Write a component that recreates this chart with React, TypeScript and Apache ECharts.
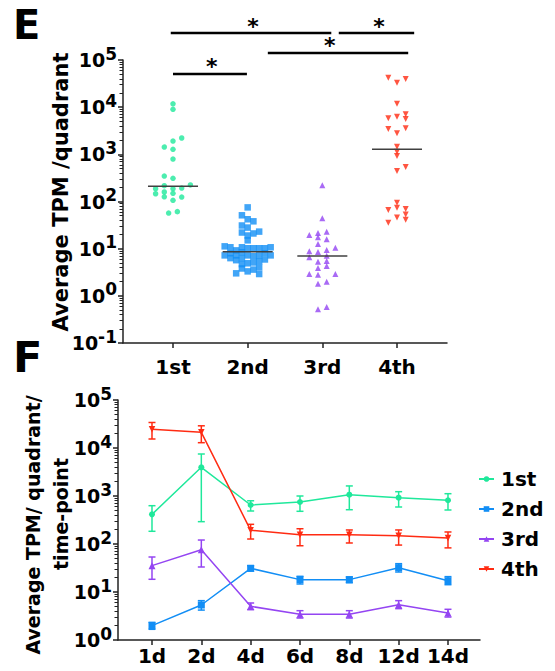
import React, { useEffect, useRef } from 'react';
import * as echarts from 'echarts';

// ---------- Panel E data ----------
const eCategories = ['1st', '2nd', '3rd', '4th'];
const eFirstValues = [11800, 9000, 2220, 1915, 1430, 1277, 796, 347, 310, 216, 224, 187, 187, 193, 159, 149, 146, 126, 124, 106, 57, 61];
const eFirstCols = [0, 0, 1, 0, -1, 0, 0, -1, 0, -1, 2, -2, 0, 1, -1, 0, -2, -1, 1, 0, -0.5, 0.5];
const eSecondValues = [75, 51, 42, 38, 31, 28, 22, 21, 23, 19, 15, 11.2, 10.7, 9.2, 10.7, 10.2, 10.2, 10.2, 10.2, 10.7, 7.2, 8.0, 6.3, 7.2, 5.7, 8.4, 6.3, 7.2, 6.9, 7.2, 8.0, 7.2, 5.9, 4.7, 4.9, 5.1, 5.4, 3.8, 3.3, 3.6, 4.0, 3.0, 2.9];
const eSecondCols = [0, -1, 0, 1, -1, 0, -1, 1, 2, 0, 0, -4, -3, -2, -1, 0, 1, 2, 3, 4, -4, -3, -3, -2, -2, -1, -1, 0, 1, 2, 3, 4, 3, -1, 0, 1, 2, -1, 0, 1, 2, -2, 2];
const eThirdValues = [220, 44, 19.5, 21.5, 22.9, 17.4, 15.8, 12.6, 10.5, 8.8, 8.5, 9.4, 7.1, 6.6, 5.3, 5.5, 4.3, 3.9, 2.9, 2.8, 2.9, 1.8, 2.0, 0.52, 0.58];
const eThirdCols = [0, 0, -1.5, -0.5, 0.5, -0.5, 0.5, -0.5, 1.5, -1.5, -0.5, 0.5, 0.5, -1.5, -0.5, 0.5, 0.5, -0.5, -1.5, -0.5, 1.5, -0.5, 0.5, -0.5, 0.5];
const eFourthValues = [42000, 33000, 39500, 11800, 5800, 6300, 7050, 5600, 3440, 2790, 3560, 1450, 1135, 920, 538, 443, 94, 66, 74, 69, 53, 46, 41, 35.5];
const eFourthCols = [-1, 0, 1, 0, -1, 0, 1, 1, -1, 0, 1, 0, 0, 0, 1, 0, 0, -1, 0, 1, 1, 0, 1, -1];
const eMedians = [210, 8.6, 7, 1280];

// significance brackets (category units / values)
const bracketFrom = [-0.03, 2.22, 1.27, 0];
const bracketTo = [2.12, 3.23, 3.15, 0.99];
const bracketLevel = [3.73e5, 3.73e5, 1.41e5, 5.05e4];
const bracketStarAt = [1.07, 2.76, 2.1, 0.52];
const bracketLabels = ['*', '*', '*', '*'];

// ---------- Panel F data ----------
const days = ['1d', '2d', '4d', '6d', '8d', '12d', '14d'];
const fNames = ['1st', '2nd', '3rd', '4th'];
const f1stMean = [415, 3960, 650, 750, 1066, 922, 815];
const f1stHigh = [628, 7500, 795, 1000, 1620, 1230, 1117];
const f1stLow = [184, 292, 487, 480, 518, 590, 511];
const f2ndMean = [1.99, 5.36, 31.1, 18.1, 18.1, 32.1, 17.2];
const f2ndHigh = [2.33, 6.6, 35.4, 21.2, 20.5, 38.9, 20.9];
const f2ndLow = [1.67, 4.2, 27.4, 14.7, 15.6, 26.1, 14.2];
const f3rdMean = [35.4, 76, 5.03, 3.43, 3.43, 5.44, 3.65];
const f3rdHigh = [53.6, 121, 5.9, 4.08, 4.08, 6.6, 4.36];
const f3rdLow = [18.4, 33.2, 4.28, 2.87, 2.87, 4.5, 3.01];
const f4thMean = [24500, 21200, 193, 156, 156, 149, 133];
const f4thHigh = [34000, 29000, 257, 208, 196, 196, 178];
const f4thLow = [15400, 12900, 127, 92, 105, 95, 83];

// ---------- styling ----------
const COLORS = ['#1fe89b', '#128ef5', '#9445f2', '#ff2b12'];
const FONT = '"DejaVu Sans", "Liberation Sans", Arial, sans-serif';
const AXIS_COLOR = '#222';
const COL_STEP = [0.1165, 0.077, 0.1165, 0.1165];

function minorLogTicks(lo: number, hi: number): number[] {
  const out: number[] = [];
  for (let n = lo; n < hi; n++) {
    for (let k = 2; k <= 9; k++) out.push(n + Math.log10(k));
  }
  return out;
}

const logLabel = (v: number) => {
  const e = Math.round(Math.log10(v));
  return `{b|10}{s|${e}}`;
};
const logRich = {
  b: { fontFamily: FONT, fontWeight: 'bold', fontSize: 19, color: '#000', lineHeight: 30 },
  s: { fontFamily: FONT, fontWeight: 'bold', fontSize: 17, color: '#000', lineHeight: 15, verticalAlign: 'top' },
};

export default function App() {
  const ref = useRef<HTMLDivElement>(null);

  useEffect(() => {
    if (!ref.current) return;
    const chart = echarts.init(ref.current, undefined, { renderer: 'svg' });

    const eSets = [
      { v: eFirstValues, c: eFirstCols, symbol: 'circle', size: 5.5, rot: 0 },
      { v: eSecondValues, c: eSecondCols, symbol: 'rect', size: 6.5, rot: 0 },
      { v: eThirdValues, c: eThirdCols, symbol: 'triangle', size: 6, rot: 0 },
      { v: eFourthValues, c: eFourthCols, symbol: 'triangle', size: 6, rot: 180 },
    ];

    const eScatter = eSets.map((s, i) => ({
      type: 'scatter',
      name: 'E ' + eCategories[i],
      xAxisIndex: 0,
      yAxisIndex: 0,
      symbol: s.symbol,
      symbolSize: s.size,
      symbolRotate: s.rot,
      itemStyle: { color: COLORS[i] },
      data: s.v.map((val, j) => [i + s.c[j] * COL_STEP[i], val]),
      z: 3,
    }));

    const medianSeries = {
      type: 'custom',
      name: 'medians',
      xAxisIndex: 0,
      yAxisIndex: 0,
      data: eMedians.map((m, i) => [i, m]),
      renderItem: (_p: any, api: any) => {
        const a = api.coord([api.value(0) - 0.335, api.value(1)]);
        const b = api.coord([api.value(0) + 0.335, api.value(1)]);
        return {
          type: 'line',
          shape: { x1: a[0], y1: a[1], x2: b[0], y2: b[1] },
          style: { stroke: '#404040', lineWidth: 1.6 },
        };
      },
      z: 5,
    };

    const bracketSeries = {
      type: 'custom',
      name: 'brackets',
      xAxisIndex: 0,
      yAxisIndex: 0,
      clip: false,
      encode: { x: [0, 1, 3], y: 2 },
      data: bracketFrom.map((f, i) => [f, bracketTo[i], bracketLevel[i], bracketStarAt[i]]),
      renderItem: (p: any, api: any) => {
        const a = api.coord([api.value(0), api.value(2)]);
        const b = api.coord([api.value(1), api.value(2)]);
        const s = api.coord([api.value(3), api.value(2)]);
        return {
          type: 'group',
          children: [
            {
              type: 'line',
              shape: { x1: a[0], y1: a[1], x2: b[0], y2: b[1] },
              style: { stroke: '#000', lineWidth: 2.5 },
            },
            {
              type: 'text',
              x: s[0],
              y: s[1] - 7,
              style: {
                text: bracketLabels[p.dataIndex],
                font: `bold 22px ${FONT}`,
                fill: '#000',
                align: 'center',
                verticalAlign: 'middle',
                textAlign: 'center',
                textVerticalAlign: 'middle',
              },
            },
          ],
        };
      },
      z: 6,
    };

    const fMeans = [f1stMean, f2ndMean, f3rdMean, f4thMean];
    const fHighs = [f1stHigh, f2ndHigh, f3rdHigh, f4thHigh];
    const fLows = [f1stLow, f2ndLow, f3rdLow, f4thLow];
    const fSymbols = [
      { symbol: 'circle', size: 6, rot: 0 },
      { symbol: 'rect', size: 7, rot: 0 },
      { symbol: 'triangle', size: 7, rot: 0 },
      { symbol: 'triangle', size: 6.5, rot: 180 },
    ];

    const fErr = fNames.map((n, i) => ({
      type: 'custom',
      name: n + ' error',
      xAxisIndex: 1,
      yAxisIndex: 2,
      encode: { x: 0, y: [1, 2] },
      data: days.map((_d, j) => [j, fLows[i][j], fHighs[i][j]]),
      renderItem: (_p: any, api: any) => {
        const top = api.coord([api.value(0), api.value(2)]);
        const bot = api.coord([api.value(0), api.value(1)]);
        const w = 3.5;
        const st = { stroke: COLORS[i], lineWidth: 1.5 };
        return {
          type: 'group',
          children: [
            { type: 'line', shape: { x1: top[0], y1: top[1], x2: bot[0], y2: bot[1] }, style: st },
            { type: 'line', shape: { x1: top[0] - w, y1: top[1], x2: top[0] + w, y2: top[1] }, style: st },
            { type: 'line', shape: { x1: bot[0] - w, y1: bot[1], x2: bot[0] + w, y2: bot[1] }, style: st },
          ],
        };
      },
      z: 2,
    }));

    const fLines = fNames.map((n, i) => ({
      type: 'line',
      name: n,
      xAxisIndex: 1,
      yAxisIndex: 2,
      symbol: fSymbols[i].symbol,
      symbolSize: fSymbols[i].size,
      symbolRotate: fSymbols[i].rot,
      showAllSymbol: true,
      lineStyle: { color: COLORS[i], width: 1.5 },
      itemStyle: { color: COLORS[i] },
      data: fMeans[i].map((v, j) => [j, v]),
      z: 3,
    }));

    const catAxis = (grid: number, min: number, max: number, labels: string[], margin: number) => ({
      gridIndex: grid,
      type: 'value',
      position: 'bottom',
      min,
      max,
      axisLine: { show: true, onZero: false, lineStyle: { color: AXIS_COLOR, width: 1.5 } },
      axisTick: {
        show: true,
        customValues: labels.map((_l, i) => i),
        length: 5,
        lineStyle: { color: AXIS_COLOR, width: 1.5 },
      },
      axisLabel: {
        show: true,
        customValues: labels.map((_l, i) => i),
        formatter: (v: number) => labels[Math.round(v)] ?? '',
        margin,
        fontFamily: FONT,
        fontWeight: 'bold',
        fontSize: 20,
        color: '#000',
      },
      splitLine: { show: false },
    });

    const logAxis = (grid: number, min: number, max: number) => ({
      gridIndex: grid,
      type: 'log',
      position: 'left',
      logBase: 10,
      min,
      max,
      axisLine: { show: true, onZero: false, lineStyle: { color: AXIS_COLOR, width: 1.5 } },
      axisTick: { show: true, length: 5, lineStyle: { color: AXIS_COLOR, width: 1.5 } },
      axisLabel: { show: true, formatter: logLabel, rich: logRich, margin: 6 },
      splitLine: { show: false },
    });

    const minorAxis = (grid: number, lo: number, hi: number) => ({
      gridIndex: grid,
      type: 'value',
      position: 'left',
      offset: 0,
      min: lo,
      max: hi,
      axisLine: { show: false, onZero: false },
      axisTick: { show: true, customValues: minorLogTicks(lo, hi), length: 3.5, lineStyle: { color: AXIS_COLOR, width: 1 } },
      axisLabel: { show: false },
      splitLine: { show: false },
    });

    const titleStyle = (text: string, size: number) => ({
      text,
      font: `bold ${size}px ${FONT}`,
      fill: '#000',
      align: 'center',
      verticalAlign: 'middle',
      textAlign: 'center',
      textVerticalAlign: 'middle',
    });

    chart.setOption({
      animation: false,
      backgroundColor: '#fff',
      grid: [
        { left: 123, top: 60, width: 324, height: 283 },
        { left: 118, top: 400, width: 362, height: 240 },
      ],
      xAxis: [
        catAxis(0, -0.6696, 3.6696, eCategories, 14),
        catAxis(1, -0.689, 6.649, days, 6),
      ],
      yAxis: [logAxis(0, 0.1, 1e5), minorAxis(0, -1, 5), logAxis(1, 1, 1e5), minorAxis(1, 0, 5)],
      legend: {
        data: fNames,
        orient: 'vertical',
        left: 473,
        top: 464,
        itemWidth: 15,
        itemHeight: 7,
        itemGap: 10,
        selectedMode: false,
        textStyle: { fontFamily: FONT, fontWeight: 'bold', fontSize: 20, color: '#000', padding: [0, 0, 0, 2] },
      },
      graphic: [
        { type: 'text', x: 13, y: 25, style: { ...titleStyle('E', 40), align: 'left', textAlign: 'left' } },
        { type: 'text', x: 13, y: 357, style: { ...titleStyle('F', 43), align: 'left', textAlign: 'left' } },
        { type: 'text', x: 61, y: 192, rotation: Math.PI / 2, style: titleStyle('Average TPM /quadrant', 21) },
        { type: 'text', x: 33, y: 525, rotation: Math.PI / 2, style: titleStyle('Average TPM/ quadrant/', 19) },
        { type: 'text', x: 61, y: 514, rotation: Math.PI / 2, style: titleStyle('time-point', 19) },
      ],
      series: [...eScatter, medianSeries, bracketSeries, ...fErr, ...fLines],
    });

    return () => chart.dispose();
  }, []);

  return <div ref={ref} style={{ position: 'absolute', left: 0, top: 0, width: 555, height: 671 }} />;
}
